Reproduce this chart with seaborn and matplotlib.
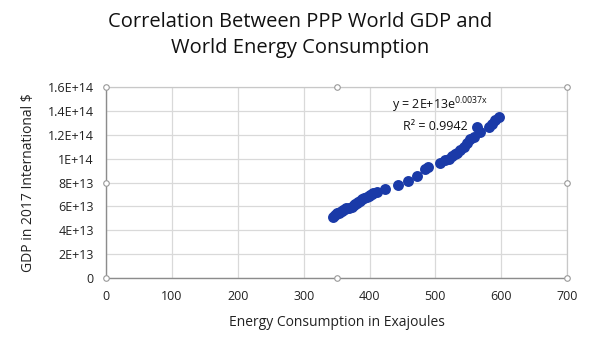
import numpy as np
import matplotlib.pyplot as plt
import matplotlib as mpl
import seaborn as sns

# ------------------ data ------------------
energy_ej = [345, 348, 350, 353, 355, 358, 360, 363, 365, 369, 373, 376, 378, 381,
             383, 386, 388, 392, 396, 399, 401, 404, 406, 411, 424, 444, 459, 472,
             484, 489, 507, 515, 520, 525, 530, 533, 538, 543, 548, 553, 558, 563,
             568, 581, 586, 591, 596]
gdp_usd = [5.13e13, 5.25e13, 5.41e13, 5.48e13, 5.55e13, 5.62e13, 5.69e13, 5.76e13,
           5.83e13, 5.90e13, 5.97e13, 6.08e13, 6.19e13, 6.29e13, 6.39e13, 6.48e13,
           6.58e13, 6.70e13, 6.81e13, 6.88e13, 6.95e13, 7.02e13, 7.09e13, 7.20e13,
           7.42e13, 7.78e13, 8.14e13, 8.54e13, 9.09e13, 9.26e13, 9.65e13, 9.85e13,
           1.00e14, 1.021e14, 1.040e14, 1.049e14, 1.071e14, 1.099e14, 1.132e14,
           1.161e14, 1.182e14, 1.266e14, 1.224e14, 1.266e14, 1.294e14, 1.322e14,
           1.345e14]

x_ticks = [0, 100, 200, 300, 400, 500, 600, 700]
y_ticks = [0, 2e13, 4e13, 6e13, 8e13, 1e14, 1.2e14, 1.4e14, 1.6e14]
y_labels = ['0', '2E+13', '4E+13', '6E+13', '8E+13', '1E+14', '1.2E+14', '1.4E+14', '1.6E+14']

# ------------------ style ------------------
sns.set_style('white')
mpl.rcParams['font.family'] = ['Open Sans', 'DejaVu Sans']

fig = plt.figure(figsize=(6, 3.53), dpi=100)
ax = fig.add_axes([0.177, 0.2125, 0.768, 0.541])

sns.scatterplot(x=energy_ej, y=gdp_usd, ax=ax, color='#1a3aa8', s=62,
                edgecolor='#1a3aa8', linewidth=0, zorder=3)

ax.set_xlim(0, 700)
ax.set_ylim(0, 1.6e14)
ax.set_xticks(x_ticks)
ax.set_yticks(y_ticks)
ax.set_yticklabels(y_labels)
ax.tick_params(axis='both', length=0, labelsize=9, pad=9, colors='#222222')
ax.grid(True, color='#d9d9d9', linewidth=0.9)
ax.set_axisbelow(True)

for side in ['top', 'right']:
    ax.spines[side].set_color('#c8c8c8')
    ax.spines[side].set_linewidth(0.9)
for side in ['left', 'bottom']:
    ax.spines[side].set_color('#8c8c8c')
    ax.spines[side].set_linewidth(1.0)

# selection handles around the plot area
hx = [0, 0.5, 1, 0, 1, 0, 0.5, 1]
hy = [0, 0, 0, 0.5, 0.5, 1, 1, 1]
ax.plot(hx, hy, 'o', transform=ax.transAxes, clip_on=False, ms=4,
        mfc='white', mec='#999999', mew=0.8, zorder=5)

ax.set_xlabel('Energy Consumption in Exajoules', fontsize=10, color='#222222', labelpad=8)
ax.set_ylabel('GDP in 2017 International $', fontsize=10, color='#222222', labelpad=8)

ax.text(0.725, 0.905, r'y = 2E+13e$^{\mathregular{0.0037x}}$', transform=ax.transAxes,
        ha='center', va='center', fontsize=9, color='#111111')
ax.text(0.785, 0.795, 'R² = 0.9942', transform=ax.transAxes,
        ha='right', va='center', fontsize=9, color='#111111')

fig.suptitle('Correlation Between PPP World GDP and\nWorld Energy Consumption',
             x=0.5, y=0.965, fontsize=14.5, color='#111111', linespacing=1.35)

fig.savefig('out.png', dpi=100)
